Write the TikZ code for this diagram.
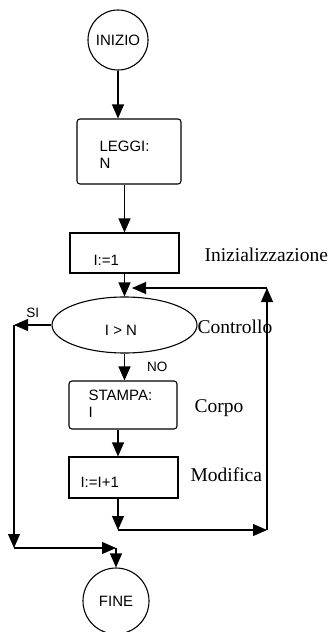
\documentclass[tikz,border=0pt]{standalone}
\usepackage{fontspec}
\setmainfont{Liberation Sans}
\newfontfamily\notefont{Liberation Serif}
\usetikzlibrary{shapes,arrows.meta,positioning}

\begin{document}
\begin{tikzpicture}[x=1pt, y=-1pt, line width=1.1pt,
    >={Triangle[length=14pt,width=12pt]},
    font=\fontsize{15}{17}\selectfont,
    txt/.style={inner sep=0pt, anchor=west, align=left},
    note/.style={inner sep=0pt, anchor=west, font=\notefont\fontsize{19.5}{22}\selectfont},
    flag/.style={inner sep=0pt, font=\fontsize{13.5}{15}\selectfont}]
    \useasboundingbox (0,0) rectangle (332,632);

    \node (start) [circle, draw, minimum size=60pt, inner sep=0pt] at (118,40) {INIZIO};
    \node (read) [rectangle, draw, rounded corners=3pt, minimum width=104pt, minimum height=65pt] at (129,151.5) {};
    \node (readtext) [txt] at (99,154.5) {LEGGI:\\N};
    \node (init) [rectangle, draw, minimum width=109pt, minimum height=40pt] at (124.5,253) {};
    \node (inittext) [txt] at (93,260) {I:=1};
    \node (test) [ellipse, draw, minimum width=145pt, minimum height=56pt] at (124.5,325) {};
    \node (testtext) [inner sep=0pt] at (121,330) {I > N};
    \node (print) [rectangle, draw, rounded corners=3pt, minimum width=108pt, minimum height=48pt] at (123,405) {};
    \node (printtext) [txt] at (88,404) {STAMPA:\\I};
    \node (mod) [rectangle, draw, minimum width=109pt, minimum height=41pt] at (123.5,477.5) {};
    \node (modtext) [txt] at (80,482) {I:=I+1};
    \node (end) [circle, draw, minimum size=66pt, inner sep=0pt] at (116,601) {FINE};

    \node (initnote) [note] at (204,255) {Inizializzazione};
    \node (testnote) [note] at (197,327) {Controllo};
    \node (printnote) [note] at (194,408) {Corpo};
    \node (modnote) [note] at (190,475) {Modifica};

    \coordinate (join) at (118,530);
    \coordinate (rjoin) at (267,530);
    \coordinate (rtop) at (267,288);
    \coordinate (back) at (132,288);
    \coordinate (sileft) at (14,325);
    \coordinate (lbot) at (14,548);
    \coordinate (fjoin) at (116,548);

    \draw [->] (start) -- (start |- read.north);
    \draw [->] (init.north |- read.south) -- (init.north);
    \draw [->] (init) -- (test);
    \draw [->] (test) -- node[flag, right=22pt] {NO} (test |- print.north);
    \draw [->] ([xshift=-5pt]print.south) -- ([xshift=-5pt]print.south |- mod.north);
    \draw [->] (mod.south -| join) -- (join);
    \draw [->] (join) -- (rjoin);
    \draw [->] (rjoin) -- (rtop);
    \draw [->] (rtop) -- (back);
    \draw [->] (test) -- node[flag, above=7pt] {SI} (sileft);
    \draw [->] (sileft) -- (lbot);
    \draw [->] (lbot) -- (fjoin);
    \draw [->] (fjoin) -- (end);
\end{tikzpicture}
\end{document}
